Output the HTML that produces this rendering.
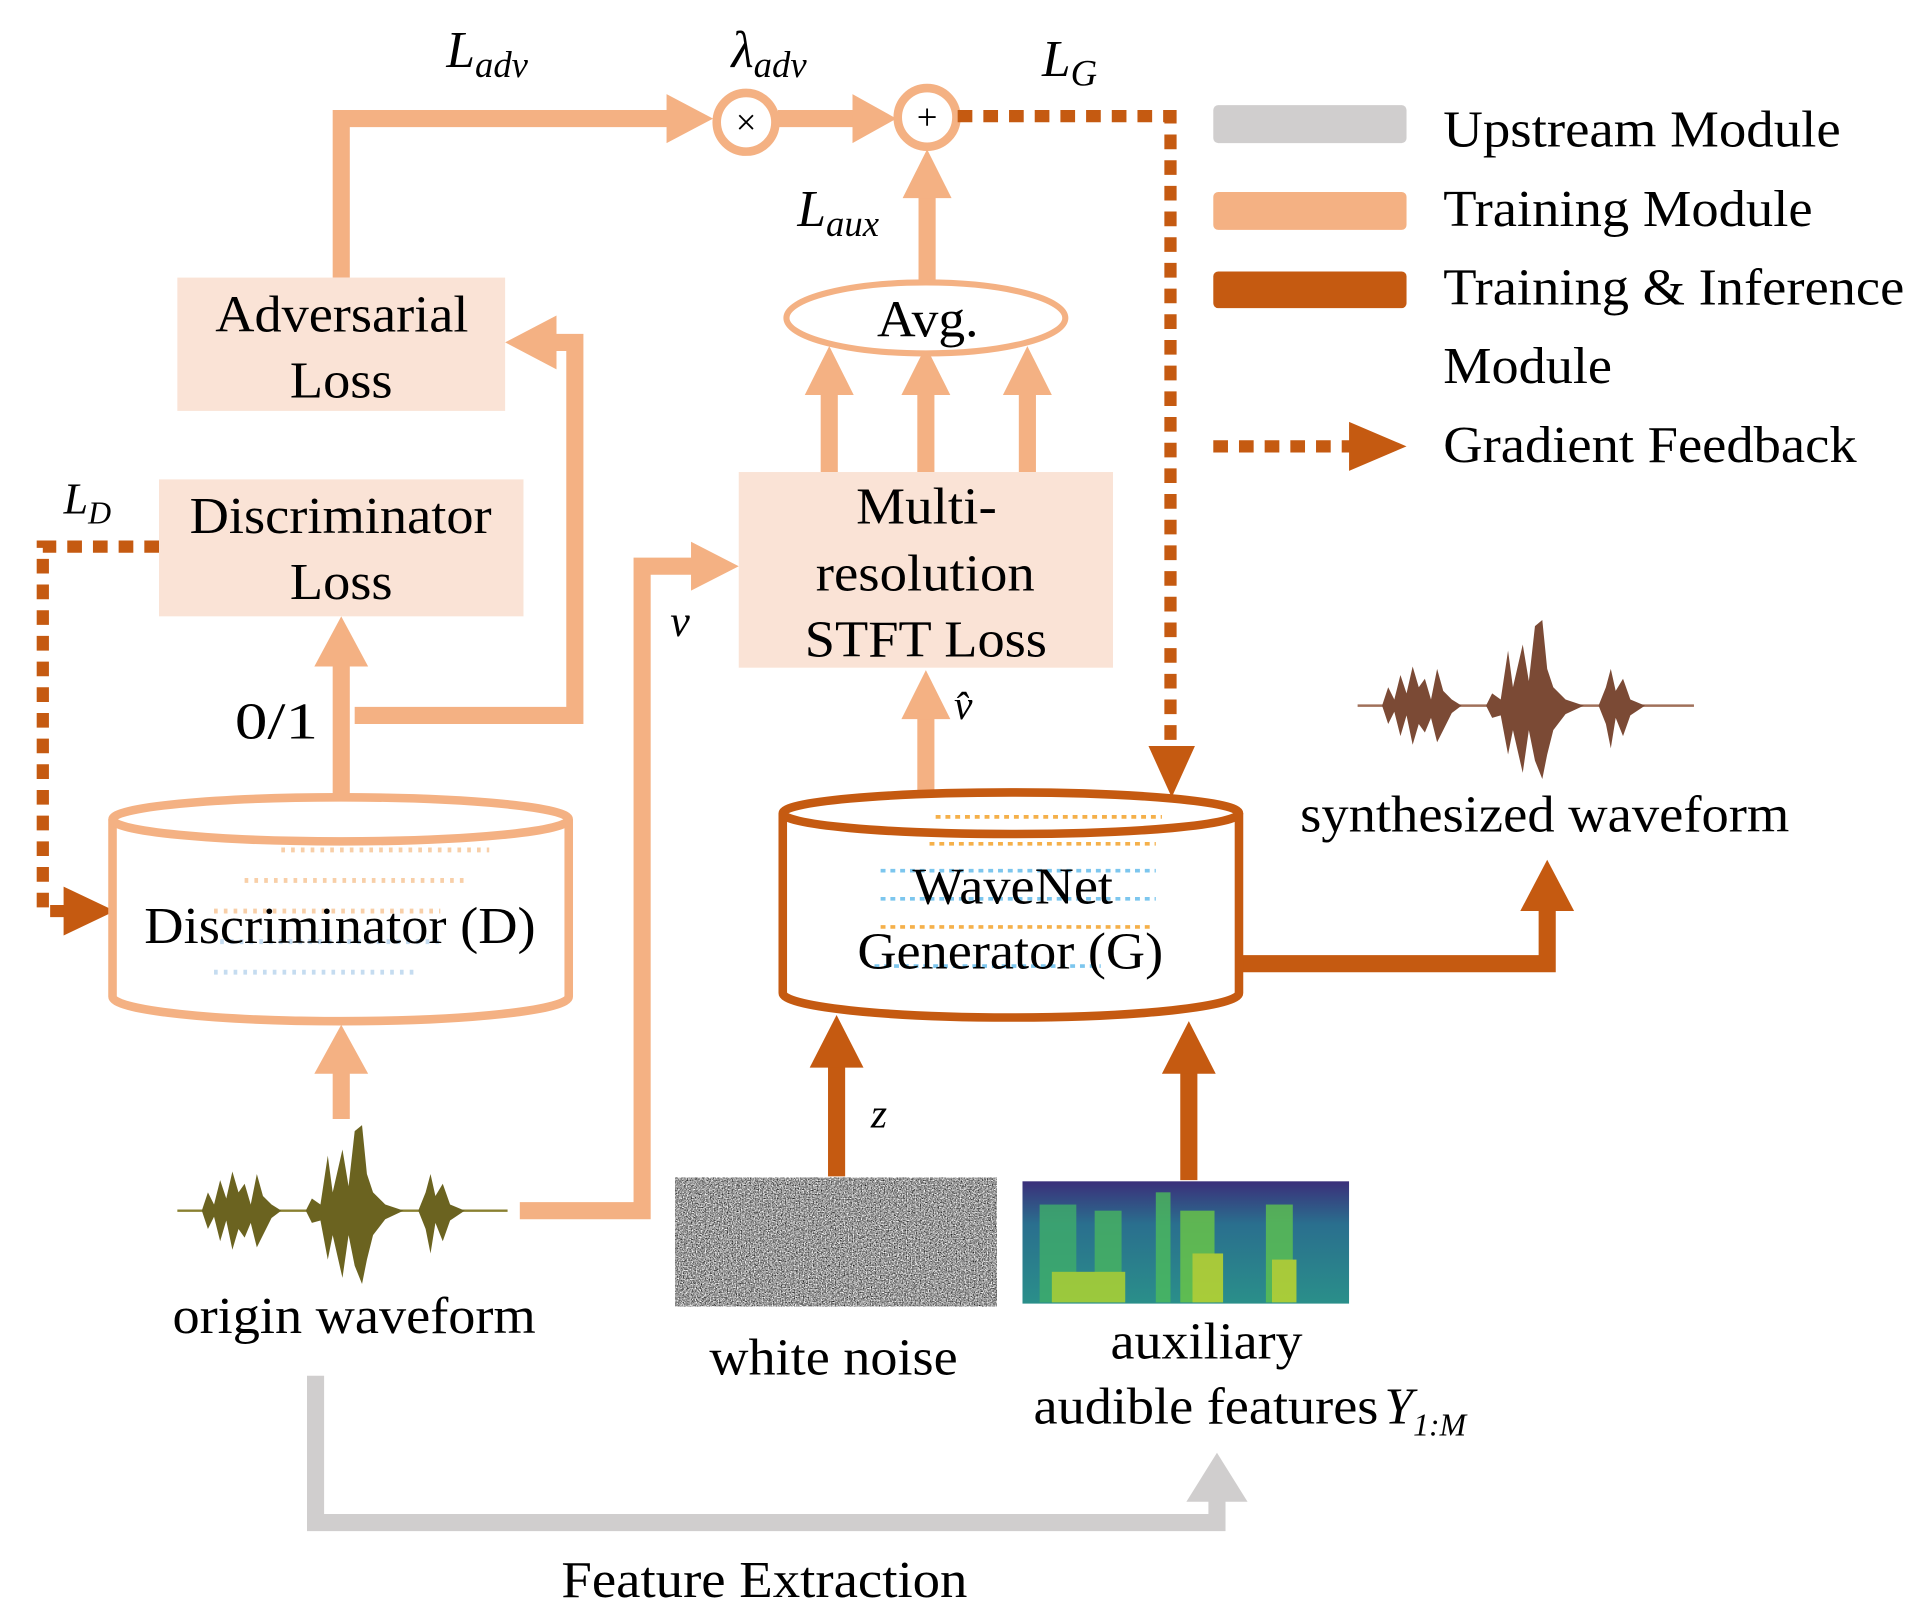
<!DOCTYPE html>
<html><head><meta charset="utf-8"><style>html,body{margin:0;padding:0;background:#fff}svg{display:block}</style></head>
<body>
<svg width="1908" height="1613" viewBox="0 0 1560 1319" preserveAspectRatio="none" xmlns="http://www.w3.org/2000/svg" font-family="'Liberation Serif', serif">
<defs>
<filter id="noise" x="0" y="0" width="100%" height="100%" color-interpolation-filters="sRGB">
<feTurbulence type="fractalNoise" baseFrequency="0.95" numOctaves="2" seed="3"/>
<feColorMatrix type="matrix" values="0.9 0.9 0.9 0 -0.75  0.9 0.9 0.9 0 -0.75  0.9 0.9 0.9 0 -0.75  0 0 0 0 1"/>
</filter>
<linearGradient id="spec" x1="0" y1="0" x2="0" y2="1">
<stop offset="0" stop-color="#3b2f7a"/><stop offset="0.35" stop-color="#2a6f8e"/><stop offset="1" stop-color="#2a8f8a"/>
</linearGradient>
</defs>
<g fill="none" stroke-linejoin="miter">
<polyline points="258,1125 258,1245 995,1245 995,1225" stroke="#d0cece" stroke-width="14"/>
<polygon points="970,1228 1020,1228 995,1188" fill="#d0cece" stroke="none"/>
<polyline points="279,227 279,97 550,97" stroke="#f4b183" stroke-width="14"/>
<polygon points="545,77 545,117 583,97" fill="#f4b183" stroke="none"/>
<line x1="636" y1="97" x2="700" y2="97" stroke="#f4b183" stroke-width="14"/>
<polygon points="697,77 697,117 733,97" fill="#f4b183" stroke="none"/>
<circle cx="610" cy="100" r="24" stroke="#f4b183" stroke-width="7" fill="#fff"/>
<circle cx="758" cy="96" r="24" stroke="#f4b183" stroke-width="7" fill="#fff"/>
<line x1="758" y1="230" x2="758" y2="160" stroke="#f4b183" stroke-width="14"/>
<polygon points="738,162 778,162 758,122" fill="#f4b183" stroke="none"/>
<line x1="678" y1="386" x2="678" y2="320" stroke="#f4b183" stroke-width="14"/>
<polygon points="658,323 698,323 678,283" fill="#f4b183" stroke="none"/>
<line x1="757" y1="386" x2="757" y2="320" stroke="#f4b183" stroke-width="14"/>
<polygon points="737,323 777,323 757,283" fill="#f4b183" stroke="none"/>
<line x1="840" y1="386" x2="840" y2="320" stroke="#f4b183" stroke-width="14"/>
<polygon points="820,323 860,323 840,283" fill="#f4b183" stroke="none"/>
<ellipse cx="757" cy="260" rx="114" ry="29" stroke="#f4b183" stroke-width="5" fill="#fff"/>
<line x1="279" y1="652" x2="279" y2="540" stroke="#f4b183" stroke-width="14"/>
<polygon points="257,545 301,545 279,504" fill="#f4b183" stroke="none"/>
<polyline points="290,585 470,585 470,280 450,280" stroke="#f4b183" stroke-width="14"/>
<polygon points="455,258 455,302 413,280" fill="#f4b183" stroke="none"/>
<line x1="279" y1="915" x2="279" y2="875" stroke="#f4b183" stroke-width="14"/>
<polygon points="257,878 301,878 279,838" fill="#f4b183" stroke="none"/>
<polyline points="425,990 525,990 525,463 570,463" stroke="#f4b183" stroke-width="14"/>
<polygon points="565,443 565,483 604,463" fill="#f4b183" stroke="none"/>
<line x1="757" y1="652" x2="757" y2="585" stroke="#f4b183" stroke-width="14"/>
<polygon points="737,588 777,588 757,548" fill="#f4b183" stroke="none"/>
<line x1="684" y1="962" x2="684" y2="870" stroke="#c55a11" stroke-width="14"/>
<polygon points="662,873 706,873 684,830" fill="#c55a11" stroke="none"/>
<line x1="972" y1="965" x2="972" y2="875" stroke="#c55a11" stroke-width="14"/>
<polygon points="950,878 994,878 972,835" fill="#c55a11" stroke="none"/>
<polyline points="1013,788 1265,788 1265,740" stroke="#c55a11" stroke-width="14"/>
<polygon points="1243,745 1287,745 1265,703" fill="#c55a11" stroke="none"/>
<polyline points="783,95 957,95 957,610" stroke="#c55a11" stroke-width="10" stroke-dasharray="12 9"/>
<polygon points="939,610 977,610 958,652" fill="#c55a11" stroke="none"/>
<polyline points="130,447 35,447 35,745 55,745" stroke="#c55a11" stroke-width="10" stroke-dasharray="12 9"/>
<polygon points="52,725 52,765 94,745" fill="#c55a11" stroke="none"/>
</g>
<rect x="145" y="227" width="268" height="109" fill="#fae3d6"/>
<rect x="130" y="392" width="298" height="112" fill="#fae3d6"/>
<rect x="604" y="386" width="306" height="160" fill="#fae3d6"/>
<path d="M92 670 L92 815 A186 20 0 0 0 465 815 L465 670" fill="#fff" stroke="#f4b183" stroke-width="7"/>
<ellipse cx="278.5" cy="670" rx="186.5" ry="18" fill="#fff" stroke="#f4b183" stroke-width="7"/>
<g stroke-width="4" stroke-dasharray="3 5" fill="none">
<line x1="230" y1="695" x2="400" y2="695" stroke="#f8cfa8"/>
<line x1="200" y1="720" x2="380" y2="720" stroke="#f8cfa8"/>
<line x1="175" y1="745" x2="360" y2="745" stroke="#f8cfa8"/>
<line x1="180" y1="770" x2="360" y2="770" stroke="#c5dcf0"/>
<line x1="175" y1="795" x2="340" y2="795" stroke="#c5dcf0"/>
</g>
<path d="M640 665 L640 812 A186 20 0 0 0 1013 812 L1013 665" fill="#fff" stroke="#c55a11" stroke-width="7"/>
<ellipse cx="826.5" cy="665" rx="186.5" ry="17" fill="#fff" stroke="#c55a11" stroke-width="7"/>
<g stroke-width="3" stroke-dasharray="4 4" fill="none">
<line x1="765" y1="668" x2="950" y2="668" stroke="#f5b04a"/>
<line x1="760" y1="690" x2="945" y2="690" stroke="#f5b04a"/>
<line x1="720" y1="712" x2="945" y2="712" stroke="#7cc6ee"/>
<line x1="720" y1="735" x2="945" y2="735" stroke="#7cc6ee"/>
<line x1="720" y1="758" x2="940" y2="758" stroke="#f5b04a"/>
<line x1="715" y1="790" x2="900" y2="790" stroke="#7cc6ee"/>
</g>
<rect x="552" y="963" width="263" height="105" fill="#999" filter="url(#noise)"/>
<rect x="836" y="966" width="267" height="100" fill="url(#spec)"/>
<g opacity="0.8">
<rect x="850" y="985" width="30" height="80" fill="#3fae6a"/>
<rect x="895" y="990" width="22" height="75" fill="#48b560"/>
<rect x="945" y="975" width="12" height="90" fill="#4cbb5c"/>
<rect x="965" y="990" width="28" height="75" fill="#6cc845"/>
<rect x="1035" y="985" width="22" height="80" fill="#5ec24f"/>
<rect x="860" y="1040" width="60" height="25" fill="#b8d82a"/>
<rect x="975" y="1025" width="25" height="40" fill="#c8dc26"/>
<rect x="1040" y="1030" width="20" height="35" fill="#c8dc26"/>
</g>
<g>
<line x1="145" y1="990" x2="415" y2="990" stroke="#8a8030" stroke-width="2"/>
<path d="M165 990 L170 975 L175 985 L180 965 L185 980 L190 958 L195 975 L200 968 L205 985 L210 960 L215 978 L222 985 L230 990 L250 990 L255 980 L262 985 L268 945 L272 975 L280 940 L285 970 L290 925 L296 920 L300 960 L305 975 L315 985 L330 990 L342 990 L348 975 L352 960 L356 978 L362 968 L368 985 L380 990 L368 998 L362 1015 L356 1000 L352 1025 L348 1005 L342 990 L330 990 L315 997 L305 1010 L300 1030 L296 1050 L290 1035 L285 1010 L280 1045 L272 1010 L268 1030 L262 998 L255 1000 L250 990 L230 990 L222 996 L215 1010 L210 1020 L205 1000 L200 1012 L195 1005 L190 1022 L185 998 L180 1015 L175 995 L170 1005 Z" fill="#6b6320"/>
</g>
<g transform="translate(965,-413)">
<line x1="145" y1="990" x2="420" y2="990" stroke="#a0705a" stroke-width="2"/>
<path d="M165 990 L170 975 L175 985 L180 965 L185 980 L190 958 L195 975 L200 968 L205 985 L210 960 L215 978 L222 985 L230 990 L250 990 L255 980 L262 985 L268 945 L272 975 L280 940 L285 970 L290 925 L296 920 L300 960 L305 975 L315 985 L330 990 L342 990 L348 975 L352 960 L356 978 L362 968 L368 985 L380 990 L368 998 L362 1015 L356 1000 L352 1025 L348 1005 L342 990 L330 990 L315 997 L305 1010 L300 1030 L296 1050 L290 1035 L285 1010 L280 1045 L272 1010 L268 1030 L262 998 L255 1000 L250 990 L230 990 L222 996 L215 1010 L210 1020 L205 1000 L200 1012 L195 1005 L190 1022 L185 998 L180 1015 L175 995 L170 1005 Z" fill="#7b4a35"/>
</g>
<rect x="992" y="86" width="158" height="31" rx="4" fill="#d0cece"/>
<rect x="992" y="157" width="158" height="31" rx="4" fill="#f4b183"/>
<rect x="992" y="222" width="158" height="30" rx="4" fill="#c55a11"/>
<line x1="992" y1="365" x2="1105" y2="365" stroke="#c55a11" stroke-width="10" stroke-dasharray="12 9"/>
<polygon points="1103,345 1103,385 1150,365" fill="#c55a11"/>
<g font-size="42" fill="#000">
<text x="1180" y="120" textLength="325" lengthAdjust="spacingAndGlyphs">Upstream Module</text>
<text x="1180" y="185" textLength="302" lengthAdjust="spacingAndGlyphs">Training Module</text>
<text x="1180" y="249" textLength="377" lengthAdjust="spacingAndGlyphs">Training &amp; Inference</text>
<text x="1180" y="313" textLength="138" lengthAdjust="spacingAndGlyphs">Module</text>
<text x="1180" y="378" textLength="338" lengthAdjust="spacingAndGlyphs">Gradient Feedback</text>
<text x="176" y="271" textLength="207" lengthAdjust="spacingAndGlyphs">Adversarial</text>
<text x="237" y="325" textLength="84" lengthAdjust="spacingAndGlyphs">Loss</text>
<text x="155" y="436" textLength="247" lengthAdjust="spacingAndGlyphs">Discriminator</text>
<text x="237" y="490" textLength="84" lengthAdjust="spacingAndGlyphs">Loss</text>
<text x="700" y="428" textLength="115" lengthAdjust="spacingAndGlyphs">Multi-</text>
<text x="667" y="483" textLength="179" lengthAdjust="spacingAndGlyphs">resolution</text>
<text x="658" y="537" textLength="198" lengthAdjust="spacingAndGlyphs">STFT Loss</text>
<text x="717" y="275" textLength="83" lengthAdjust="spacingAndGlyphs">Avg.</text>
<text x="118" y="771" textLength="320" lengthAdjust="spacingAndGlyphs">Discriminator (D)</text>
<text x="746" y="739" textLength="164" lengthAdjust="spacingAndGlyphs">WaveNet</text>
<text x="701" y="792" textLength="250" lengthAdjust="spacingAndGlyphs">Generator (G)</text>
<text x="1063" y="680" textLength="400" lengthAdjust="spacingAndGlyphs">synthesized waveform</text>
<text x="141" y="1090" textLength="297" lengthAdjust="spacingAndGlyphs">origin waveform</text>
<text x="580" y="1124" textLength="203" lengthAdjust="spacingAndGlyphs">white noise</text>
<text x="908" y="1111" textLength="157" lengthAdjust="spacingAndGlyphs">auxiliary</text>
<text x="845" y="1164" textLength="282" lengthAdjust="spacingAndGlyphs">audible features</text>
<text x="1132" y="1164" font-style="italic">Y<tspan font-size="26" dy="10">1:M</tspan></text>
<text x="459" y="1306" textLength="332" lengthAdjust="spacingAndGlyphs">Feature Extraction</text>
<text x="192" y="604" textLength="68" lengthAdjust="spacingAndGlyphs">0/1</text>
<text x="365" y="55" font-style="italic">L<tspan font-size="30" dy="8">adv</tspan></text>
<text x="598" y="55" font-style="italic">λ<tspan font-size="30" dy="8">adv</tspan></text>
<text x="852" y="62" font-style="italic">L<tspan font-size="30" dy="8">G</tspan></text>
<text x="652" y="185" font-style="italic">L<tspan font-size="30" dy="8">aux</tspan></text>
<text x="52" y="420" font-style="italic" font-size="36">L<tspan font-size="26" dy="8">D</tspan></text>
<text x="548" y="520" font-style="italic" font-size="36">v</text>
<text x="780" y="588" font-style="italic" font-size="34">v̂</text>
<text x="712" y="922" font-style="italic" font-size="34">z</text>
<text x="610" y="110" text-anchor="middle" font-size="30">×</text>
<text x="758" y="106" text-anchor="middle" font-size="30">+</text>
</g>
</svg>
</body></html>
